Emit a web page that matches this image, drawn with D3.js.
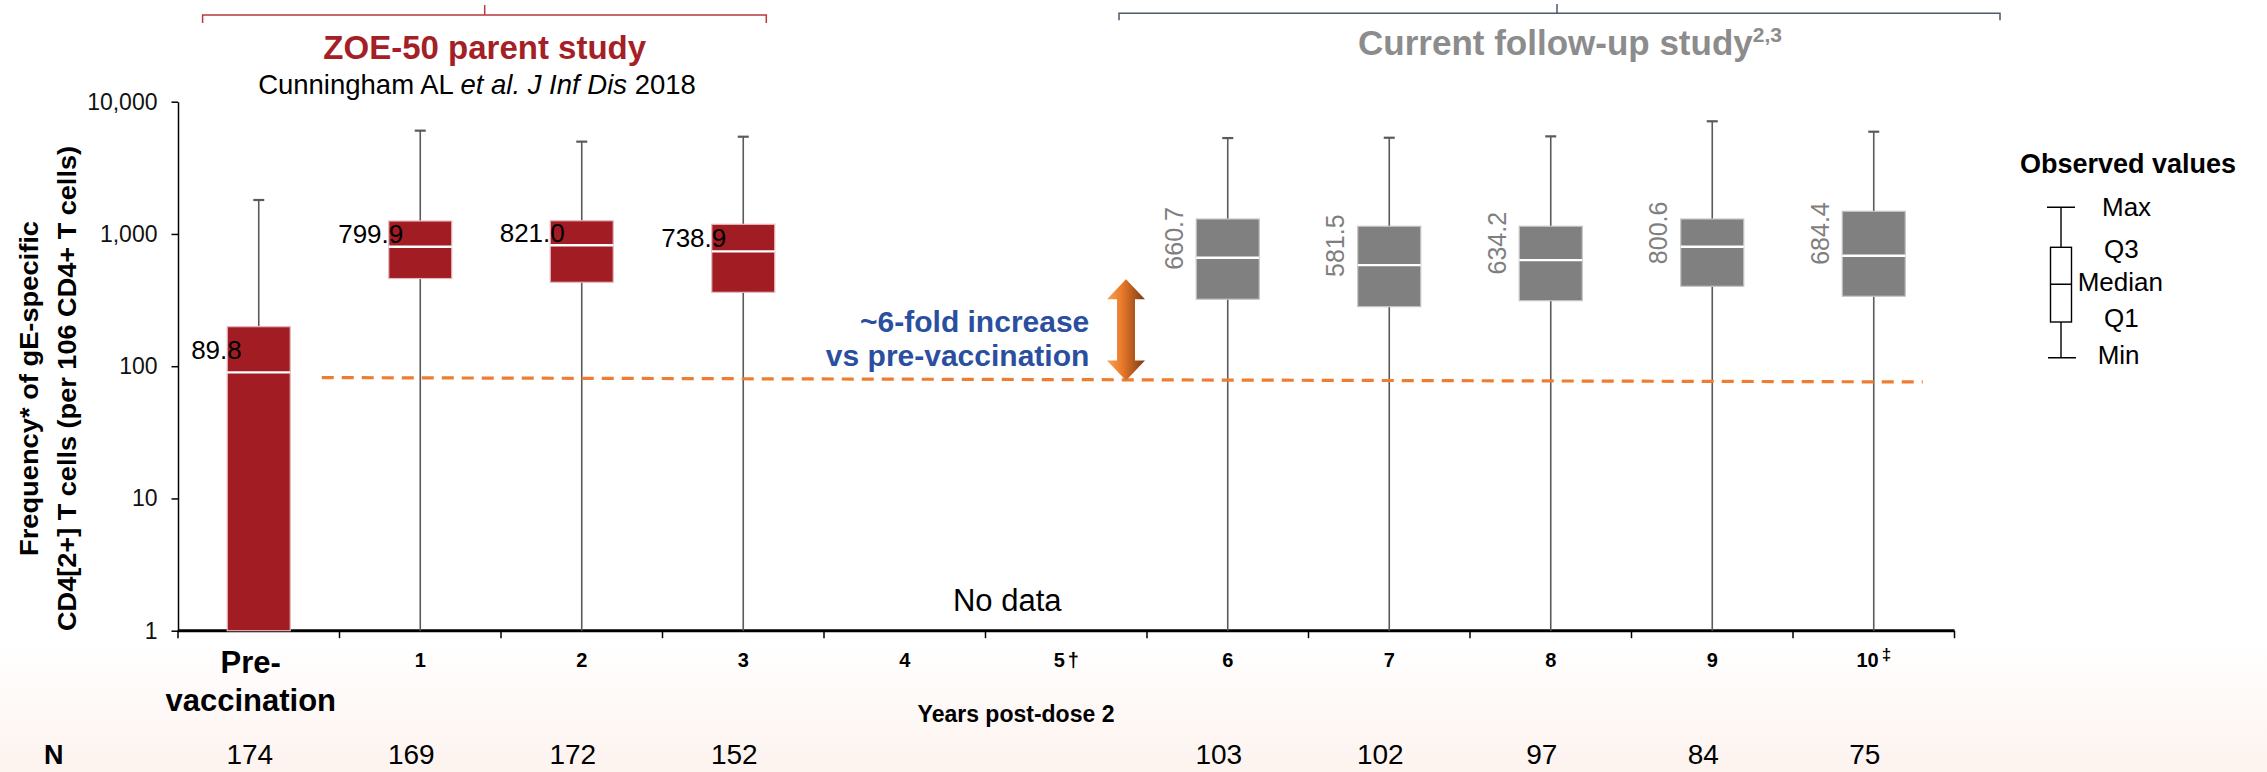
<!DOCTYPE html>
<html>
<head>
<meta charset="utf-8">
<script src="https://cdn.jsdelivr.net/npm/d3@7"></script>
<style>
  html, body { margin: 0; padding: 0; background: #ffffff; }
  svg { display: block; font-family: "Liberation Sans", Arial, Helvetica, sans-serif; }
</style>
</head>
<body>
<svg id="chart" width="2267" height="772"></svg>
<script>
// ---- Data -------------------------------------------------------------
const categories   = ["pre", "1", "2", "3", "4", "5", "6", "7", "8", "9", "10"];
const tickLabels   = ["Pre-vaccination", "1", "2", "3", "4", "5", "6", "7", "8", "9", "10"];
const tickMarks    = ["", "", "", "", "", "†", "", "", "", "", "‡"];

const boxCategories = ["pre", "1", "2", "3", "6", "7", "8", "9", "10"];
const boxStudy      = ["parent", "parent", "parent", "parent", "followup", "followup", "followup", "followup", "followup"];
const boxMin        = [1, 1, 1, 1, 1, 1, 1, 1, 1];
const boxQ1         = [1, 460, 431, 362, 321, 282, 313, 402, 338];
const boxMedian     = [89.8, 799.9, 821.0, 738.9, 660.7, 581.5, 634.2, 800.6, 684.4];
const boxQ3         = [199, 1253, 1258, 1183, 1297, 1143, 1143, 1297, 1483];
const boxMax        = [1806, 6040, 4988, 5436, 5310, 5340, 5470, 7110, 5930];
const nCounts       = [174, 169, 172, 152, 103, 102, 97, 84, 75];

const yTicks         = [1, 10, 100, 1000, 10000];
const referenceLevel = [82, 76];   // dashed pre-vaccination reference (start, end)
const foldArrow      = [78, 455];  // span of the fold-increase arrow

// ---- Setup ------------------------------------------------------------
const svg = d3.select("#chart");
const W = 2267, H = 772;
const FONT = "'Liberation Sans', Arial, Helvetica, sans-serif";

const x = d3.scaleBand().domain(categories).range([178, 1954.5]).paddingInner(0).paddingOuter(0);
const y = d3.scaleLog().domain([1, 10000]).range([630.7, 101.7]);
const cx = c => x(c) + x.bandwidth() / 2;
const boxW = 63;

const colors = { parent: "#A21C24", followup: "#808080" };

const defs = svg.append("defs");

// faint warm tint along the lower edge
const bg = defs.append("linearGradient").attr("id", "bottomTint")
  .attr("x1", 0).attr("y1", 0).attr("x2", 0).attr("y2", 1);
bg.append("stop").attr("offset", "0%").attr("stop-color", "#ffffff");
bg.append("stop").attr("offset", "100%").attr("stop-color", "#FDF3EF");

const ag = defs.append("linearGradient").attr("id", "arrowFill")
  .attr("x1", 0).attr("y1", 0).attr("x2", 1).attr("y2", 0);
ag.append("stop").attr("offset", "0%").attr("stop-color", "#F7A25A");
ag.append("stop").attr("offset", "40%").attr("stop-color", "#E9792A");
ag.append("stop").attr("offset", "100%").attr("stop-color", "#7A3912");

svg.append("rect").attr("x", 0).attr("y", 0).attr("width", W).attr("height", H).attr("fill", "#ffffff");
svg.append("rect").attr("x", 0).attr("y", 640).attr("width", W).attr("height", H - 640).attr("fill", "url(#bottomTint)");

// ---- Study brackets and headings -------------------------------------
function bracket(x0, x1, yb, drop, notchX, notchTop, color) {
  svg.append("path")
    .attr("d", `M${x0},${yb + drop}V${yb}H${x1}V${yb + drop}M${notchX},${yb}V${notchTop}`)
    .attr("fill", "none").attr("stroke", color).attr("stroke-width", 1.5);
}
bracket(202.6, 766.3, 15, 8, 484.7, 5, "#B8393F");
bracket(1119, 2000, 13.3, 7, 1557, 4, "#4A5A70");

svg.append("text").attr("x", 484.7).attr("y", 59.3).attr("text-anchor", "middle")
  .attr("font-size", 33).attr("font-weight", "bold").attr("fill", "#A51F27")
  .text("ZOE-50 parent study");

const cite = svg.append("text").attr("x", 477).attr("y", 94.3).attr("text-anchor", "middle")
  .attr("font-size", 27.5).attr("fill", "#000");
cite.append("tspan").text("Cunningham AL ");
cite.append("tspan").attr("font-style", "italic").text("et al. J Inf Dis");
cite.append("tspan").text(" 2018");

const fu = svg.append("text").attr("x", 1570).attr("y", 55).attr("text-anchor", "middle")
  .attr("font-size", 35).attr("font-weight", "bold").attr("fill", "#8C8C8C");
fu.append("tspan").text("Current follow-up study");
fu.append("tspan").attr("font-size", 21).attr("dy", -13).text("2,3");

// ---- Axes ---------------------------------------------------------------
const yAxis = d3.axisLeft(y).tickValues(yTicks).tickFormat(d3.format(","))
  .tickSize(6.5).tickSizeOuter(0).tickPadding(14);
const gy = svg.append("g").attr("transform", "translate(178,0)").call(yAxis);
gy.select(".domain").attr("stroke", "#000").attr("stroke-width", 1.5);
gy.selectAll(".tick line").attr("stroke", "#000").attr("stroke-width", 1.5);
gy.selectAll(".tick text").attr("font-family", FONT).attr("font-size", 23).attr("fill", "#111");

// y title
const yTitle = [["Frequency* of gE-specific", 38, 335], ["CD4[2+] T cells (per 106 CD4+ T cells)", 76, 485]];
yTitle.forEach(([t, bx, len]) => {
  svg.append("text")
    .attr("transform", `translate(${bx},388.5) rotate(-90)`)
    .attr("text-anchor", "middle").attr("font-size", 25).attr("font-weight", "bold")
    .attr("textLength", len).attr("lengthAdjust", "spacingAndGlyphs")
    .attr("fill", "#000").text(t);
});

// x axis baseline and band-boundary ticks
const xRange = x.range();
svg.append("line").attr("x1", xRange[0]).attr("x2", xRange[1])
  .attr("y1", y(1)).attr("y2", y(1)).attr("stroke", "#000").attr("stroke-width", 3);
const bounds = categories.map(c => x(c)).concat([xRange[1]]);
svg.append("g").selectAll("line").data(bounds).join("line")
  .attr("x1", d => d).attr("x2", d => d)
  .attr("y1", y(1)).attr("y2", y(1) + 7.5)
  .attr("stroke", "#000").attr("stroke-width", 1.5);

// x tick labels
categories.forEach((c, i) => {
  if (c === "pre") {
    const t = svg.append("text").attr("text-anchor", "middle")
      .attr("font-size", 31).attr("font-weight", "bold").attr("fill", "#000");
    t.append("tspan").attr("x", cx(c) - 8).attr("y", 673.3).text("Pre-");
    t.append("tspan").attr("x", cx(c) - 8).attr("y", 710.7).text("vaccination");
  } else {
    const t = svg.append("text").attr("x", cx(c)).attr("y", 667.3).attr("text-anchor", "middle")
      .attr("font-size", 20).attr("font-weight", "bold").attr("fill", "#000");
    t.append("tspan").text(tickLabels[i]);
    if (tickMarks[i] === "†") t.append("tspan").attr("dx", 3).text(tickMarks[i]);
    if (tickMarks[i] === "‡") t.append("tspan").attr("dx", 3).attr("dy", -7).attr("font-size", 17).text(tickMarks[i]);
  }
});

svg.append("text").attr("x", 1016).attr("y", 721.7).attr("text-anchor", "middle")
  .attr("font-size", 23).attr("font-weight", "bold").attr("fill", "#000")
  .text("Years post-dose 2");

svg.append("text").attr("x", cx("5") - 59).attr("y", 610.7).attr("text-anchor", "middle")
  .attr("font-size", 31).attr("fill", "#000").text("No data");

// ---- Box plots ------------------------------------------------------------
const boxes = boxCategories.map((c, i) => ({
  c, study: boxStudy[i], min: boxMin[i], q1: boxQ1[i], med: boxMedian[i], q3: boxQ3[i], max: boxMax[i]
}));

const gb = svg.append("g");
// whiskers
gb.selectAll("line.whisker").data(boxes).join("line").attr("class", "whisker")
  .attr("x1", d => cx(d.c)).attr("x2", d => cx(d.c))
  .attr("y1", d => y(d.max)).attr("y2", d => y(d.min))
  .attr("stroke", "#5A5A5A").attr("stroke-width", 1.6);
gb.selectAll("line.cap").data(boxes).join("line").attr("class", "cap")
  .attr("x1", d => cx(d.c) - 5.5).attr("x2", d => cx(d.c) + 5.5)
  .attr("y1", d => y(d.max)).attr("y2", d => y(d.max))
  .attr("stroke", "#5A5A5A").attr("stroke-width", 2.2);
// boxes
gb.selectAll("rect.box").data(boxes).join("rect").attr("class", "box")
  .attr("x", d => cx(d.c) - boxW / 2).attr("width", boxW)
  .attr("y", d => y(d.q3)).attr("height", d => y(d.q1) - y(d.q3))
  .attr("fill", d => colors[d.study])
  .attr("stroke", d => d.study === "parent" ? "#E7B9BC" : "#C4C4C4").attr("stroke-width", 1.2);
// medians
gb.selectAll("line.median").data(boxes).join("line").attr("class", "median")
  .attr("x1", d => cx(d.c) - boxW / 2).attr("x2", d => cx(d.c) + boxW / 2)
  .attr("y1", d => y(d.med)).attr("y2", d => y(d.med))
  .attr("stroke", "#ffffff").attr("stroke-width", 2.4);

// median value labels
const labelY = d => (y(d.q3) + y(d.med)) / 2;
gb.selectAll("text.plabel").data(boxes.filter(d => d.study === "parent")).join("text")
  .attr("class", "plabel")
  .attr("x", d => cx(d.c) - 17).attr("y", labelY)
  .attr("dominant-baseline", "central").attr("text-anchor", "end")
  .attr("font-size", 26).attr("fill", "#000")
  .text(d => d.med.toFixed(1));
gb.selectAll("text.flabel").data(boxes.filter(d => d.study === "followup")).join("text")
  .attr("class", "flabel")
  .attr("transform", d => `translate(${cx(d.c) - 54},${labelY(d)}) rotate(-90)`)
  .attr("dominant-baseline", "central").attr("text-anchor", "middle")
  .attr("font-size", 25).attr("fill", "#7F7F7F")
  .text(d => d.med.toFixed(1));

// ---- Reference line and fold-increase annotation -----------------------
const refX0 = cx("pre") + 63, refX1 = cx("10") + 49;
svg.append("line")
  .attr("x1", refX0).attr("x2", refX1)
  .attr("y1", y(referenceLevel[0])).attr("y2", y(referenceLevel[1]))
  .attr("stroke", "#EE7D31").attr("stroke-width", 3.2).attr("stroke-dasharray", "12,8");

const ax = x("6") - 21;
const aTop = y(foldArrow[1]), aBot = y(foldArrow[0]);
const hw = 19, hh = 20, sw = 9;
svg.append("path")
  .attr("d", `M${ax},${aTop}L${ax + hw},${aTop + hh}L${ax + sw},${aTop + hh}L${ax + sw},${aBot - hh}` +
             `L${ax + hw},${aBot - hh}L${ax},${aBot}L${ax - hw},${aBot - hh}L${ax - sw},${aBot - hh}` +
             `L${ax - sw},${aTop + hh}L${ax - hw},${aTop + hh}Z`)
  .attr("fill", "url(#arrowFill)");

const foldText = svg.append("text").attr("text-anchor", "end")
  .attr("font-size", 30).attr("font-weight", "bold").attr("fill", "#2A4FA0");
foldText.append("tspan").attr("x", 1089.3).attr("y", 332).text("~6-fold increase");
foldText.append("tspan").attr("x", 1089.3).attr("y", 366).text("vs pre-vaccination");

// ---- N row --------------------------------------------------------------
svg.append("text").attr("x", 44).attr("y", 764).attr("font-size", 27).attr("font-weight", "bold")
  .attr("fill", "#000").text("N");
svg.append("g").selectAll("text").data(boxCategories).join("text")
  .attr("x", d => cx(d) - 9).attr("y", 764).attr("text-anchor", "middle")
  .attr("font-size", 28).attr("fill", "#000")
  .text((d, i) => nCounts[i]);

// ---- Legend -----------------------------------------------------------------
const lg = svg.append("g");
lg.append("text").attr("x", 2128).attr("y", 173.3).attr("text-anchor", "middle")
  .attr("font-size", 27).attr("font-weight", "bold").attr("fill", "#000").text("Observed values");
const lx = 2061;
lg.append("path")
  .attr("d", `M${lx - 14},207.3H${lx + 14}M${lx},207.3V247.3M${lx},322V357.7M${lx - 13},357.7H${lx + 15}M${lx - 10.5},284.3H${lx + 10.5}`)
  .attr("fill", "none").attr("stroke", "#000").attr("stroke-width", 1.4);
lg.append("rect").attr("x", lx - 10.5).attr("y", 247.3).attr("width", 21).attr("height", 74.7)
  .attr("fill", "none").attr("stroke", "#000").attr("stroke-width", 1.4);
[["Max", 2102, 206.7], ["Q3", 2104, 248.7], ["Median", 2077.7, 282], ["Q1", 2104, 318], ["Min", 2097.7, 355]]
  .forEach(([t, tx, ty]) => {
    lg.append("text").attr("x", tx).attr("y", ty).attr("dominant-baseline", "central")
      .attr("font-size", 26).attr("fill", "#000").text(t);
  });
</script>
</body>
</html>
